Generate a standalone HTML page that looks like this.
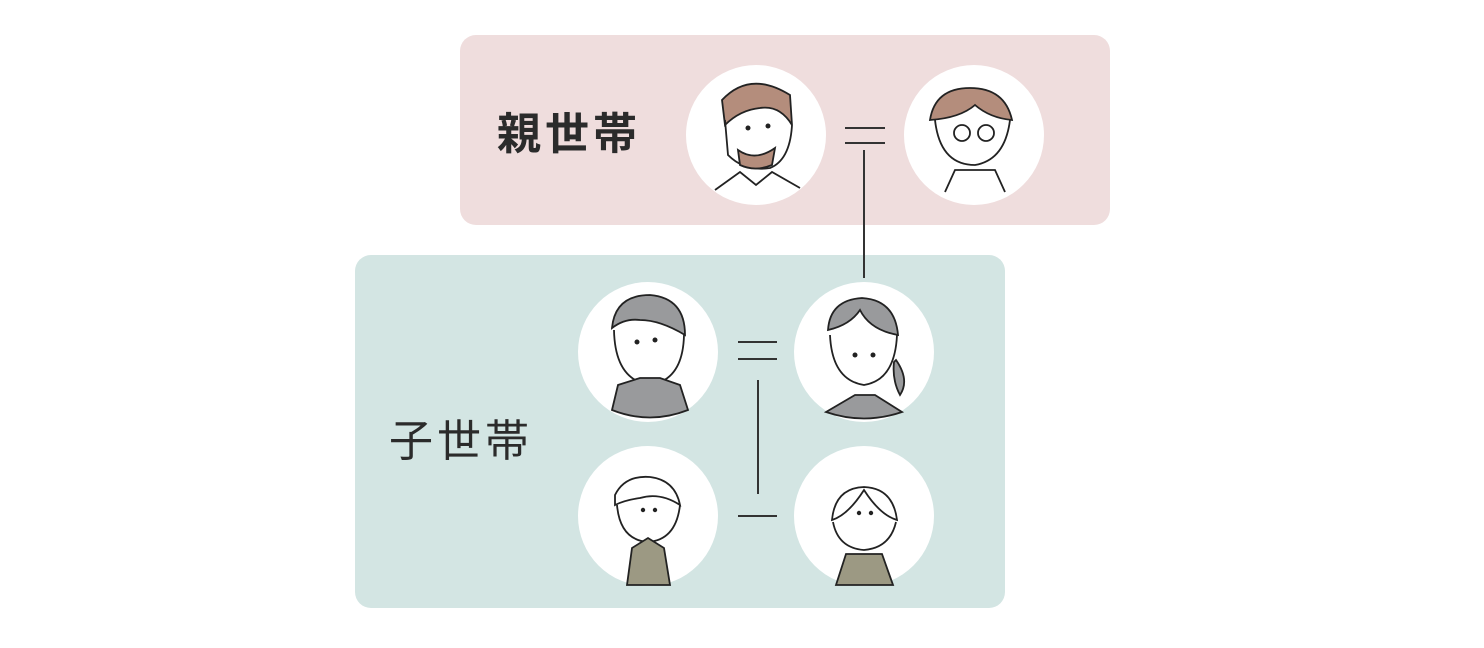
<!DOCTYPE html>
<html><head><meta charset="utf-8"><style>
html,body{margin:0;padding:0;background:#fff;width:1484px;height:648px;overflow:hidden}
.t{position:absolute;font-family:"Liberation Sans","Noto Sans CJK JP",sans-serif;color:#2b2b2b;font-size:44px;letter-spacing:4px;line-height:1}
</style></head><body>
<svg width="1484" height="648" style="position:absolute;left:0;top:0">
<rect x="460" y="35" width="650" height="190" rx="16" fill="#efdddd"/>
<rect x="355" y="255" width="650" height="353" rx="16" fill="#d3e5e3"/>
<g stroke="#333" stroke-width="2" fill="none">
<line x1="845" y1="128" x2="885" y2="128"/><line x1="845" y1="143" x2="885" y2="143"/>
<line x1="864" y1="150" x2="864" y2="278"/>
<line x1="738" y1="342" x2="777" y2="342"/><line x1="738" y1="359" x2="777" y2="359"/>
<line x1="758" y1="380" x2="758" y2="494"/>
<line x1="738" y1="516" x2="777" y2="516"/>
</g>
<g fill="#fff"><circle cx="756" cy="135" r="70"/><circle cx="974" cy="135" r="70"/>
<circle cx="648" cy="352" r="70"/><circle cx="864" cy="352" r="70"/>
<circle cx="648" cy="516" r="70"/><circle cx="864" cy="516" r="70"/></g>
<g stroke="#222" stroke-width="1.8">
<path d="M722 100 Q750 70 790 95 L792 125 Q780 105 760 108 Q740 110 725 125 Z" fill="#b48d7c"/>
<path d="M725 120 L728 155 Q745 172 770 168 Q790 160 792 125" fill="none"/>
<path d="M738 150 Q755 162 775 148 L772 165 Q755 172 740 165Z" fill="#b48d7c"/>
<path d="M715 190 L740 172 L756 185 L772 172 L800 188" fill="none"/>
<path d="M930 120 Q935 88 970 88 Q1005 88 1012 120 Q990 118 975 105 Q960 118 930 120Z" fill="#b48d7c"/>
<path d="M935 120 Q940 165 975 165 Q1005 160 1010 120" fill="none"/>
<circle cx="962" cy="133" r="8" fill="none"/><circle cx="986" cy="133" r="8" fill="none"/>
<path d="M945 192 L955 170 L995 170 L1005 192" fill="none"/>
<path d="M612 328 Q615 295 650 295 Q685 298 685 335 Q660 320 640 320 Q625 318 612 328Z" fill="#999a9c"/>
<path d="M614 330 Q615 380 650 385 Q683 380 684 335" fill="none"/>
<path d="M612 410 L618 385 L640 378 L660 378 L680 385 L688 410 Q650 425 612 410Z" fill="#999a9c"/>
<path d="M828 330 Q830 300 862 298 Q895 300 898 335 Q870 330 860 310 Q850 325 828 330Z" fill="#999a9c"/>
<path d="M830 335 Q832 380 864 385 Q895 380 897 335" fill="none"/>
<path d="M896 360 Q910 380 900 395 Q892 380 894 362Z" fill="#999a9c"/>
<path d="M826 412 L855 395 L875 395 L902 412 Q864 425 826 412Z" fill="#999a9c"/>
<path d="M615 495 Q625 475 650 477 Q675 480 680 505 Q660 492 640 498 Q625 500 615 505Z" fill="#fff"/>
<path d="M617 505 Q620 540 648 542 Q676 540 680 505" fill="none"/>
<path d="M627 585 L632 548 L648 538 L664 548 L670 585Z" fill="#9c9983"/>
<path d="M832 520 Q835 488 864 487 Q893 488 897 520 Q880 515 864 490 Q848 515 832 520Z" fill="#fff"/>
<path d="M833 522 Q838 548 864 550 Q890 548 896 522" fill="none"/>
<path d="M836 585 L846 554 L882 554 L893 585Z" fill="#9c9983"/>
</g>
<g fill="#222"><circle cx="748" cy="128" r="2.5"/><circle cx="768" cy="126" r="2.5"/>
<circle cx="637" cy="342" r="2.5"/><circle cx="655" cy="340" r="2.5"/>
<circle cx="855" cy="355" r="2.5"/><circle cx="873" cy="355" r="2.5"/>
<circle cx="643" cy="510" r="2.2"/><circle cx="655" cy="510" r="2.2"/>
<circle cx="859" cy="513" r="2.2"/><circle cx="871" cy="513" r="2.2"/></g>
</svg>
<div class="t" style="left:497px;top:113px;font-weight:bold">親世帯</div>
<div class="t" style="left:389px;top:420px">子世帯</div>
</body></html>
